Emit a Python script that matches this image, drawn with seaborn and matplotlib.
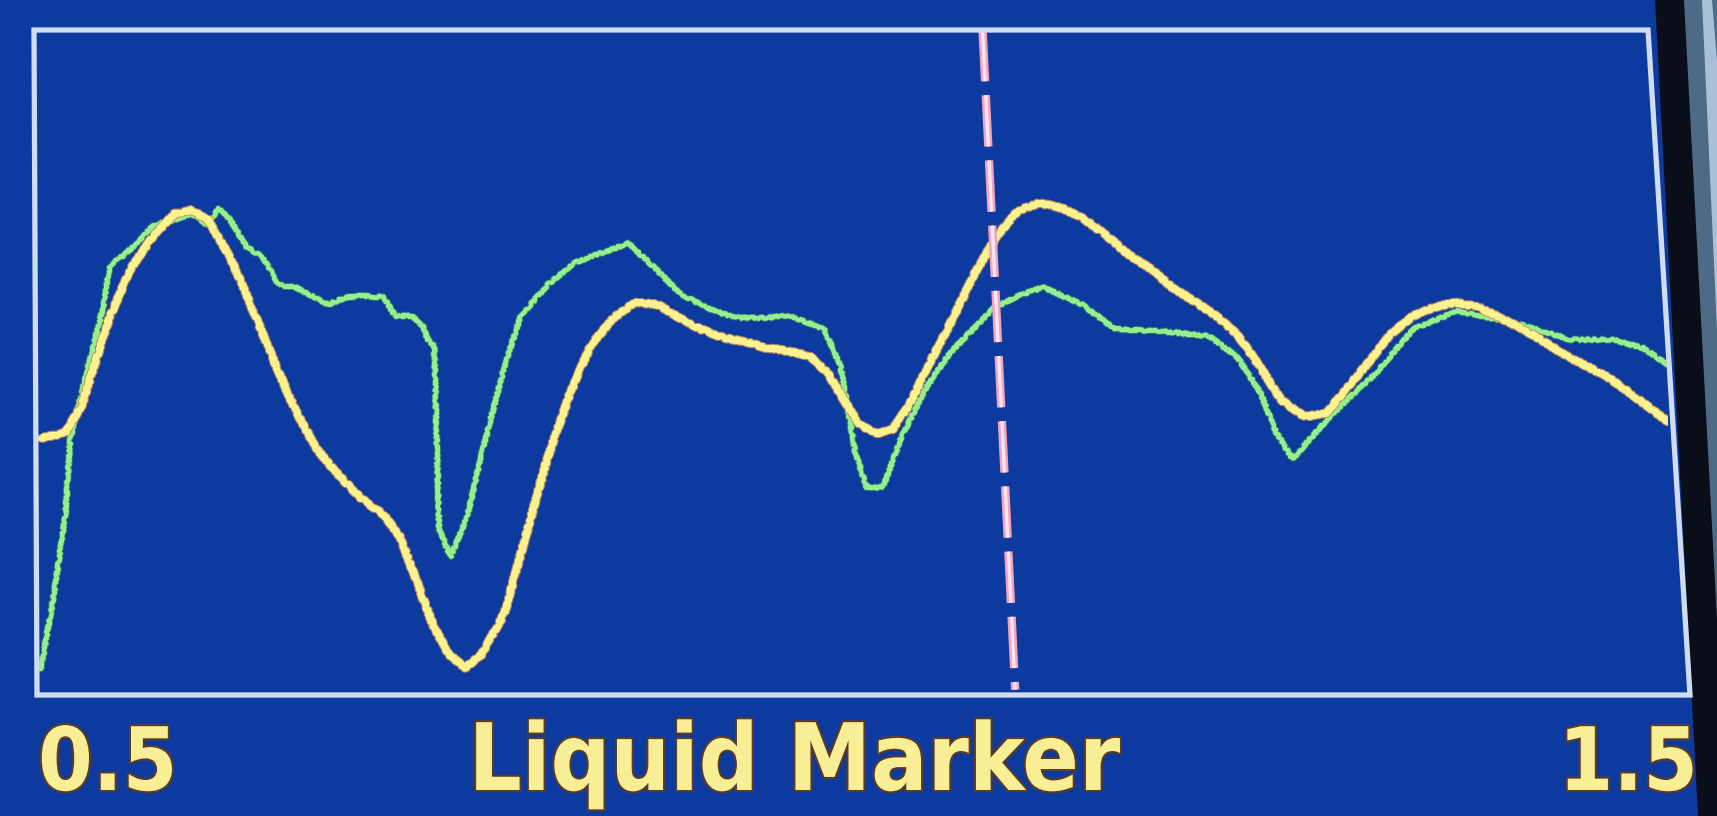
import os
import numpy as np
import pandas as pd
import matplotlib
matplotlib.use("Agg")
import matplotlib.pyplot as plt
import matplotlib.patheffects as pe
from matplotlib import font_manager as fm
from matplotlib.patches import Polygon
import seaborn as sns

# trace: x runs 0.5 .. 1.5, y is screen level 0..100
yellow_x = [0.503, 0.518, 0.528, 0.545, 0.558, 0.572, 0.585, 0.595, 0.605, 0.619,
            0.632, 0.646, 0.659, 0.672, 0.686, 0.699, 0.713, 0.723, 0.733, 0.743,
            0.753, 0.763, 0.773, 0.787, 0.800, 0.813, 0.827, 0.840, 0.854, 0.867,
            0.881, 0.894, 0.907, 0.921, 0.934, 0.948, 0.961, 0.974, 0.985, 0.995,
            1.005, 1.015, 1.025, 1.035, 1.048, 1.062, 1.075, 1.089, 1.102, 1.115,
            1.129, 1.142, 1.156, 1.169, 1.183, 1.196, 1.209, 1.223, 1.236, 1.250,
            1.263, 1.277, 1.290, 1.303, 1.317, 1.330, 1.344, 1.357, 1.370, 1.384,
            1.397, 1.411, 1.424, 1.438, 1.451, 1.464, 1.478, 1.491, 1.500]
yellow_y = [38.4, 39.3, 43.4, 56.6, 64.0, 69.0, 72.3, 72.8, 71.5, 65.7,
            58.3, 50.0, 42.6, 36.8, 32.7, 29.4, 26.9, 23.6, 17.0, 10.4,
            5.8, 3.8, 5.8, 12.0, 23.6, 35.1, 45.0, 52.5, 56.6, 58.9,
            58.6, 56.6, 54.9, 53.6, 53.0, 52.0, 51.6, 50.8, 48.3, 44.2,
            40.4, 39.1, 39.8, 43.4, 50.0, 56.6, 63.2, 69.0, 72.8, 73.9,
            73.1, 71.5, 69.0, 66.2, 64.0, 61.2, 59.2, 56.9, 54.1, 49.2,
            44.2, 41.7, 42.1, 45.9, 50.0, 54.1, 56.9, 58.2, 58.9, 58.2,
            56.6, 54.9, 53.0, 50.8, 49.2, 47.5, 45.0, 42.6, 40.9]

green_x = [0.503, 0.511, 0.518, 0.521, 0.532, 0.542, 0.545, 0.552, 0.562, 0.572,
           0.585, 0.595, 0.605, 0.612, 0.619, 0.629, 0.639, 0.649, 0.659, 0.669,
           0.679, 0.689, 0.699, 0.713, 0.720, 0.730, 0.737, 0.740, 0.744, 0.747,
           0.754, 0.764, 0.774, 0.787, 0.797, 0.814, 0.831, 0.848, 0.863, 0.878,
           0.895, 0.911, 0.928, 0.948, 0.962, 0.983, 0.993, 1.002, 1.009, 1.019,
           1.030, 1.045, 1.060, 1.087, 1.102, 1.117, 1.141, 1.161, 1.189, 1.219,
           1.236, 1.250, 1.260, 1.270, 1.287, 1.303, 1.321, 1.344, 1.371, 1.405,
           1.440, 1.466, 1.485, 1.500]
green_y = [3.6, 14.9, 26.9, 38.4, 49.2, 59.1, 64.4, 65.7, 67.8, 70.6,
           71.4, 72.3, 70.6, 73.1, 71.4, 67.3, 65.7, 61.5, 61.2, 59.9,
           58.6, 59.6, 59.9, 59.7, 56.9, 56.9, 55.4, 53.3, 52.3, 24.8,
           20.5, 26.4, 37.0, 49.2, 56.9, 61.7, 65.0, 66.5, 67.8, 64.4,
           60.2, 58.1, 56.6, 56.6, 56.9, 54.9, 49.2, 36.3, 31.0, 31.0,
           38.4, 45.9, 51.3, 58.1, 59.9, 61.2, 58.6, 54.9, 54.6, 53.8,
           50.7, 45.4, 39.3, 35.3, 40.1, 44.2, 48.2, 54.9, 57.6, 55.9,
           53.3, 53.3, 52.0, 49.5]

# marker cursor (slightly slanted in the photo)
marker_x = [1.080, 1.100]
marker_y = [100, 0.5]

x_range = [0.5, 1.5]
x_labels = ["0.5", "1.5"]
title = "Liquid Marker"

yellow_df = pd.DataFrame({"x": yellow_x, "y": yellow_y})
green_df = pd.DataFrame({"x": green_x, "y": green_y})

sns.set_theme(style="dark")
plt.rcParams["font.family"] = ["DejaVu Sans"]
plt.rcParams["lines.scale_dashes"] = False


def narrow_bold_font():
    # look for any condensed / narrow bold face that is installed
    for f in fm.fontManager.ttflist:
        base = os.path.basename(f.fname).lower()
        narrow = ("narrow" in base or "condensed" in base
                  or str(f.stretch) in ("condensed", "semi-condensed", "extra-condensed"))
        bold = "bold" in base or f.weight in (600, 700, "bold", "semibold")
        if narrow and bold and "italic" not in base and "oblique" not in base:
            return fm.FontProperties(fname=f.fname), True
    return fm.FontProperties(family="DejaVu Sans", weight="bold"), False


font, is_narrow = narrow_bold_font()

W, H = 1717, 816
BLUE = "#0c3a9f"
fig = plt.figure(figsize=(W / 100, H / 100), dpi=100, facecolor=BLUE)


def px(x, y):
    # screen pixel (top-left origin) -> figure fraction
    return (x / W, 1 - y / H)


# dark bezel on the right edge of the photo
fig.add_artist(Polygon([px(1655, 0), px(1717, 0), px(1717, 816), px(1698, 816)],
                       closed=True, transform=fig.transFigure,
                       facecolor="#0a0e18", edgecolor="none", zorder=0))
fig.add_artist(Polygon([px(1684, 0), px(1717, 0), px(1717, 620)],
                       closed=True, transform=fig.transFigure,
                       facecolor="#4d6a86", edgecolor="none", zorder=0))
fig.add_artist(Polygon([px(1702, 0), px(1712, 0), px(1717, 60), px(1717, 330)],
                       closed=True, transform=fig.transFigure,
                       facecolor="#a9c0d6", edgecolor="none", zorder=0))

ax = fig.add_axes([36 / W, 1 - 693 / H, 1632 / W, 663 / H])
ax.set_facecolor(BLUE)
ax.patch.set_alpha(0)

sns.lineplot(data=green_df, x="x", y="y", ax=ax, color="#95ee8f", linewidth=3.0,
             estimator=None, sort=False, zorder=3,
             path_effects=[pe.Stroke(linewidth=4.4, foreground="#3f8a5a", alpha=0.7), pe.Normal()])
sns.lineplot(data=yellow_df, x="x", y="y", ax=ax, color="#f9f28e", linewidth=4.4,
             estimator=None, sort=False, zorder=4,
             path_effects=[pe.Stroke(linewidth=6.0, foreground="#d8905a", alpha=0.8), pe.Normal()])
# the screen draws the traces with a fine saw-tooth texture
for ln in ax.lines:
    ln.set_sketch_params(scale=1.2, length=2.5, randomness=8)

ax.plot(marker_x, marker_y, color="#fde6ee", linewidth=2.4, dashes=(37, 10), zorder=5,
        path_effects=[pe.Stroke(linewidth=6.0, foreground="#f2a3c0"), pe.Normal()])

ax.set_xlim(*x_range)
ax.set_ylim(0, 100)
ax.set_xlabel("")
ax.set_ylabel("")
ax.set_xticks([])
ax.set_yticks([])
for s in ax.spines.values():
    s.set_visible(False)

# screen frame, skewed by the camera angle
fig.add_artist(Polygon([px(34, 30), px(1648, 30), px(1690, 695), px(37, 695)],
                       closed=True, transform=fig.transFigure, fill=False,
                       edgecolor="#cfdcf2", linewidth=3.8, zorder=6))

lab_size, title_size = (63, 67) if is_narrow else (52, 52)
txt_fx = [pe.withStroke(linewidth=3, foreground="#5a3a28")]
txt_kw = dict(color="#f8ee96", va="baseline", fontproperties=font, path_effects=txt_fx)
t1 = fig.text(38 / W, 1 - 790 / H, x_labels[0], ha="left", **txt_kw)
t2 = fig.text(1698 / W, 1 - 790 / H, x_labels[1], ha="right", **txt_kw)
t3 = fig.text(794 / W, 1 - 790 / H, title, ha="center", **txt_kw)
for t in (t1, t2):
    t.set_fontsize(lab_size)
t3.set_fontsize(title_size)

fig.savefig("out.png", dpi=100, facecolor=BLUE)
